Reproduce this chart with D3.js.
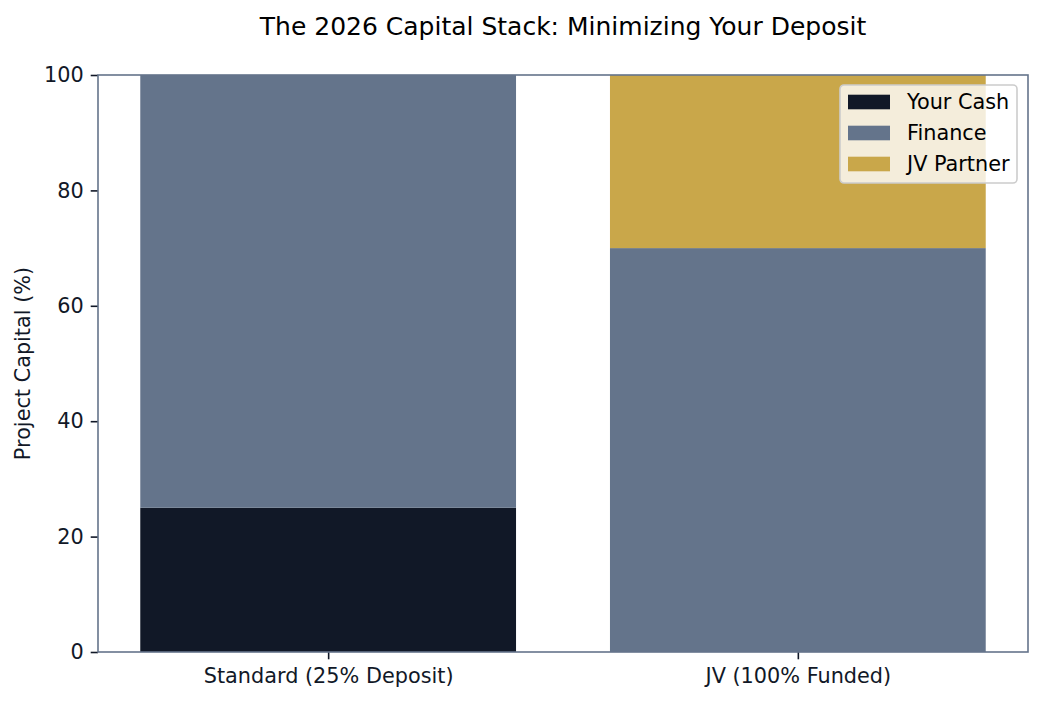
<!DOCTYPE html>
<html>
<head>
<meta charset="utf-8">
<script src="https://cdn.jsdelivr.net/npm/d3@7"></script>
<style>
  body { margin: 0; background: #fff; }
  svg text { font-family: "DejaVu Sans", Verdana, sans-serif; }
</style>
</head>
<body>
<div id="chart"></div>
<script>
// data
const categories = ["Standard (25% Deposit)", "JV (100% Funded)"];
const seriesNames = ["Your Cash", "Finance", "JV Partner"];
const yourCash = [25, 0];
const finance = [75, 70];
const jvPartner = [0, 30];
const yTicks = [0, 20, 40, 60, 80, 100];
const colors = ["#111827", "#64748b", "#c9a74a"];

const width = 1042, height = 702;
const margin = {top: 75, right: 14, bottom: 50, left: 98};
const w = width - margin.left - margin.right;
const h = height - margin.top - margin.bottom;
const fs = 20.8;  // 10pt at 150 dpi

const svg = d3.select("#chart").append("svg")
  .attr("width", width)
  .attr("height", height);

const g = svg.append("g").attr("transform", `translate(${margin.left},${margin.top})`);

const x = d3.scaleLinear().domain([-0.49, 1.49]).range([0, w]);
const y = d3.scaleLinear().domain([0, 100]).range([h, 0]);
const barW = x(0.4) - x(-0.4);

const rows = categories.map((c, i) => ({cat: i, "Your Cash": yourCash[i], "Finance": finance[i], "JV Partner": jvPartner[i]}));
const stack = d3.stack().keys(seriesNames)(rows);

g.selectAll("g.series")
  .data(stack)
  .enter().append("g")
  .attr("fill", (d, i) => colors[i])
  .selectAll("rect")
  .data(d => d)
  .enter().append("rect")
  .attr("x", d => x(d.data.cat) - barW / 2)
  .attr("width", barW)
  .attr("y", d => y(d[1]))
  .attr("height", d => y(d[0]) - y(d[1]));

// axes
const yAxis = g.append("g").call(d3.axisLeft(y).tickValues(yTicks).tickSize(7.3).tickPadding(7));
const xAxis = g.append("g").attr("transform", `translate(0,${h})`)
  .call(d3.axisBottom(x).tickValues([0, 1]).tickFormat(i => categories[i]).tickSize(7.3).tickPadding(9));
[yAxis, xAxis].forEach(a => {
  a.select(".domain").remove();
  a.attr("font-family", null).attr("font-size", null);
  a.selectAll("text").style("font-size", fs + "px").attr("fill", "#111827");
  a.selectAll(".tick line").attr("stroke", "#111827").attr("stroke-width", 1.6);
});

// spines
g.append("rect").attr("width", w).attr("height", h)
  .attr("fill", "none").attr("stroke", "#64748b").attr("stroke-width", 1.6);

// labels
svg.append("text")
  .attr("x", margin.left + w / 2).attr("y", 35)
  .attr("text-anchor", "middle").style("font-size", "25px").attr("fill", "#000")
  .text("The 2026 Capital Stack: Minimizing Your Deposit");

svg.append("text")
  .attr("transform", `translate(30,${margin.top + h / 2}) rotate(-90)`)
  .attr("text-anchor", "middle").style("font-size", fs + "px").attr("fill", "#111827")
  .text("Project Capital (%)");

// legend
const lg = g.append("g").attr("transform", `translate(${840 - margin.left},${85 - margin.top})`);
lg.append("rect").attr("width", 177).attr("height", 98).attr("rx", 4)
  .attr("fill", "#fff").attr("fill-opacity", 0.8).attr("stroke", "#cccccc").attr("stroke-width", 1.6);
seriesNames.forEach((s, i) => {
  const row = lg.append("g").attr("transform", `translate(0,${17 + i * 31})`);
  row.append("rect").attr("x", 8).attr("y", -7.3).attr("width", 42).attr("height", 14.6).attr("fill", colors[i]);
  row.append("text").attr("x", 67).attr("y", 0).attr("dy", "0.35em")
    .style("font-size", fs + "px").attr("fill", "#000").text(s);
});
</script>
</body>
</html>
